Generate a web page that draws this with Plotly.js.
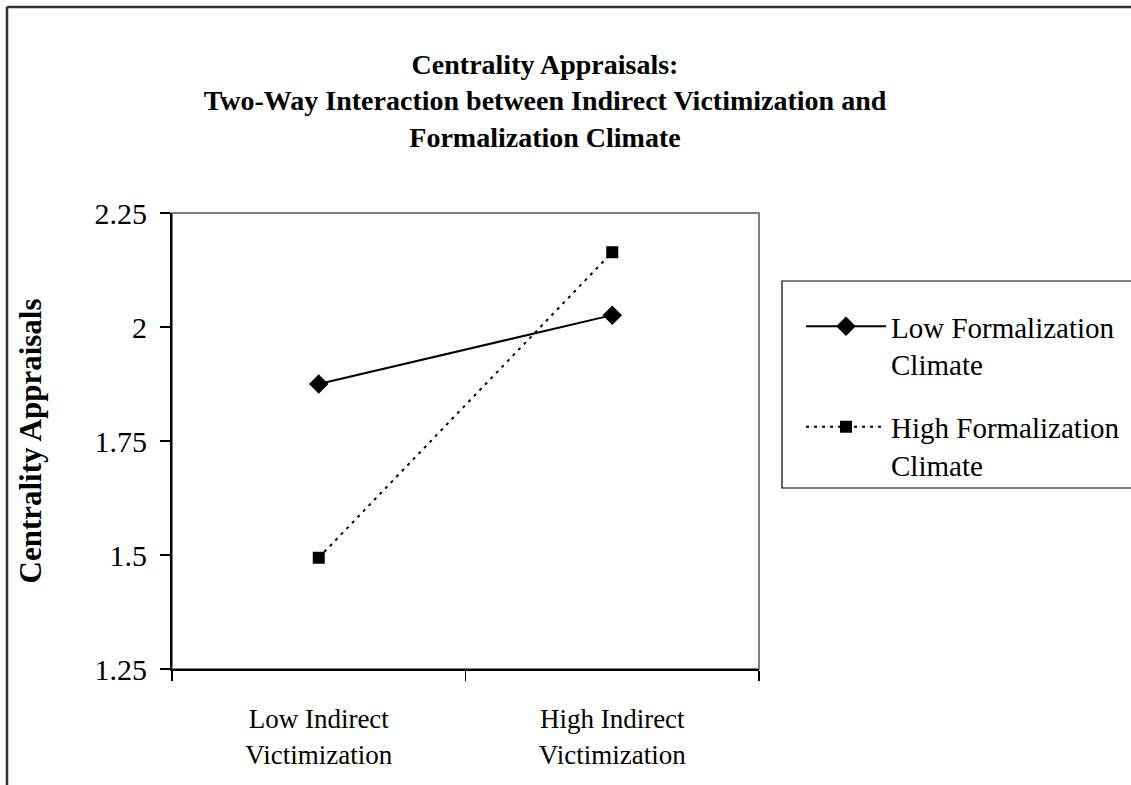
<!DOCTYPE html>
<html>
<head>
<meta charset="utf-8">
<script src="https://cdn.plot.ly/plotly-3.0.1.min.js"></script>
<style>html,body{margin:0;padding:0;background:#fff;}#chart{width:1131px;height:785px;}</style>
</head>
<body>
<div id="chart"></div>
<script>
const categories = ["Low Indirect<br>Victimization", "High Indirect<br>Victimization"];
const lowFormalization = [1.875, 2.026];
const highFormalization = [1.494, 2.164];
const seriesNames = ["Low Formalization<br>Climate", "High Formalization<br>Climate"];
const yTicks = [1.25, 1.5, 1.75, 2, 2.25];

const FONT = '"Liberation Serif", "Times New Roman", serif';
const PW = 587, PH = 456, PL = 172, PB = 669;
const px = v => (v - PL) / PW;
const py = v => (PB - v) / PH;

const traces = [
  {
    x: categories, y: lowFormalization, name: seriesNames[0], type: 'scatter', mode: 'lines+markers',
    line: {color: '#000', width: 2, dash: 'solid'},
    marker: {symbol: 'diamond', size: 15, color: '#000'},
    legendgroup: 'a'
  },
  {
    x: categories, y: highFormalization, name: seriesNames[1], type: 'scatter', mode: 'lines+markers',
    line: {color: '#000', width: 2, dash: '3px,5px'},
    marker: {symbol: 'square', size: 12, color: '#000'},
    legendgroup: 'b'
  }
];

const layout = {
  width: 1131, height: 785,
  margin: {l: 172, r: 372, t: 213, b: 116, pad: 0, autoexpand: false},
  paper_bgcolor: '#fff', plot_bgcolor: '#fff',
  font: {family: FONT, color: '#000', size: 27},
  showlegend: true,
  title: {
    text: '<b>Centrality Appraisals:</b><br><b>Two-Way Interaction between Indirect Victimization and</b><br><b>Formalization Climate</b>',
    font: {family: FONT, size: 28, color: '#000'},
    x: px(545), xanchor: 'center', xref: 'paper',
    y: 1, yref: 'container', yanchor: 'top', pad: {t: 74}
  },
  xaxis: {
    type: 'category', range: [-0.5, 1.5],
    showline: true, linecolor: '#000', linewidth: 2,
    ticks: 'outside', ticklen: 10, tickwidth: 1.5, tickcolor: '#000',
    tickson: 'boundaries',
    showgrid: false, zeroline: false,
    tickfont: {family: FONT, size: 27, color: '#000'},
    ticklabelstandoff: 25,
    fixedrange: true, automargin: false
  },
  yaxis: {
    range: [1.25, 2.25], tickvals: yTicks, autorange: false,
    showline: true, linecolor: '#000', linewidth: 2,
    ticks: 'outside', ticklen: 10, tickwidth: 1.5, tickcolor: '#000',
    showgrid: false, zeroline: false,
    tickfont: {family: FONT, size: 30, color: '#000'},
    ticklabelstandoff: 7,
    title: {text: '<b>Centrality Appraisals</b>', font: {family: FONT, size: 31, color: '#000'}, standoff: 44},
    fixedrange: true, automargin: false
  },
  legend: {
    x: px(801), xanchor: 'left', y: py(301), yanchor: 'top',
    borderwidth: 0, bgcolor: 'rgba(0,0,0,0)',
    font: {family: FONT, size: 29, color: '#000'},
    valign: 'top', tracegroupgap: 22, traceorder: 'grouped',
    itemwidth: 80
  },
  shapes: [
    {type: 'rect', xref: 'paper', yref: 'paper', x0: 0, x1: 1, y0: 0, y1: 1, line: {color: '#808080', width: 2}, layer: 'below'},
    {type: 'rect', xref: 'paper', yref: 'paper', x0: px(782), x1: px(1145), y0: py(281), y1: py(488), line: {color: '#000', width: 1.2}, fillcolor: 'rgba(0,0,0,0)', layer: 'below'},
    {type: 'line', xref: 'paper', yref: 'paper', x0: px(7), x1: px(1140), y0: py(7), y1: py(7), line: {color: '#333', width: 2.5}},
    {type: 'line', xref: 'paper', yref: 'paper', x0: px(7), x1: px(7), y0: py(7), y1: py(800), line: {color: '#333', width: 2.5}}
  ]
};

Plotly.newPlot('chart', traces, layout, {displayModeBar: false, staticPlot: true});
</script>
</body>
</html>
